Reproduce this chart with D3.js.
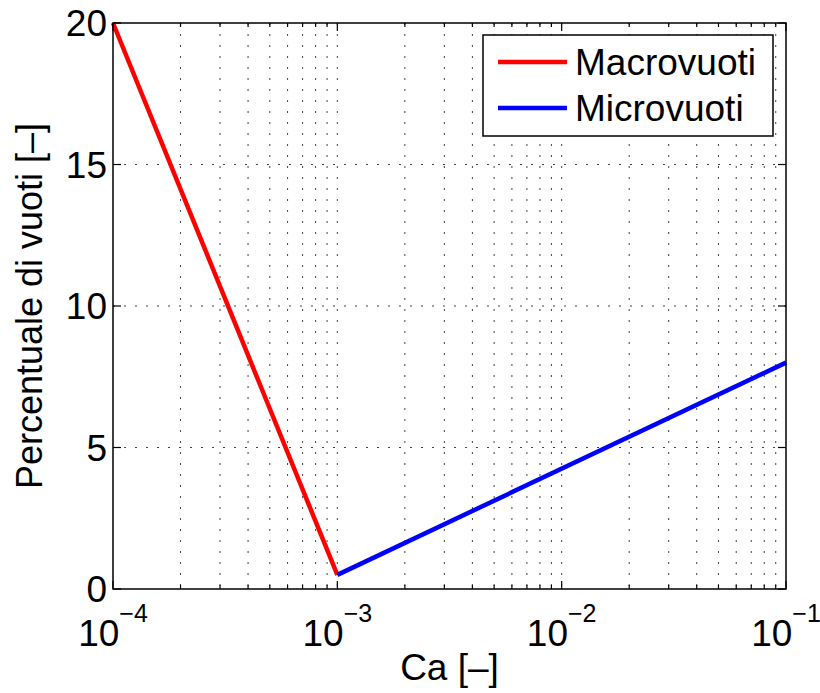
<!DOCTYPE html>
<html>
<head>
<meta charset="utf-8">
<script src="https://d3js.org/d3.v7.min.js"></script>
<style>
  body { margin: 0; background: #fff; }
  svg text { font-family: "Liberation Sans", Arial, sans-serif; fill: #000; }
</style>
</head>
<body>
<div id="chart"></div>
<script>
// data
var macroCa = [1e-4, 1e-3];
var macroVoids = [20, 0.5];
var microCa = [1e-3, 1e-1];
var microVoids = [0.5, 8];
var xTickExp = [-4, -3, -2, -1];
var yTicks = [0, 5, 10, 15, 20];
var seriesNames = ["Macrovuoti", "Microvuoti"];
var seriesColors = ["#ff0000", "#0000ff"];

var W = 820, H = 693;
var margin = {top: 23, right: 34, bottom: 104, left: 113};
var width = W - margin.left - margin.right,
    height = H - margin.top - margin.bottom;

var svg = d3.select("#chart").append("svg")
    .attr("width", W).attr("height", H);
var g = svg.append("g")
    .attr("transform", "translate(" + margin.left + "," + margin.top + ")");

var x = d3.scaleLog().domain([1e-4, 1e-1]).range([0, width]);
var y = d3.scaleLinear().domain([0, 20]).range([height, 0]);

// minor positions 2..9 in every decade
var minor = [];
xTickExp.slice(0, -1).forEach(function(e) {
  for (var k = 2; k <= 9; k++) minor.push(k * Math.pow(10, e));
});
var major = xTickExp.map(function(e) { return Math.pow(10, e); });

// dotted grid
var grid = g.append("g").attr("stroke", "#444").attr("stroke-width", 1)
    .attr("stroke-dasharray", "2,9");
grid.selectAll(".vx").data(minor.concat(major.slice(1, -1))).enter().append("line")
    .attr("x1", d => x(d)).attr("x2", d => x(d))
    .attr("y1", 0).attr("y2", height);
grid.selectAll(".hy").data(yTicks.slice(1, -1)).enter().append("line")
    .attr("x1", 0).attr("x2", width)
    .attr("y1", d => y(d)).attr("y2", d => y(d));

// lines
var line = d3.line().x(d => x(d[0])).y(d => y(d[1]));
var series = [d3.zip(macroCa, macroVoids), d3.zip(microCa, microVoids)];
series.forEach(function(s, i) {
  g.append("path").datum(s)
    .attr("fill", "none")
    .attr("stroke", seriesColors[i])
    .attr("stroke-width", 4.5)
    .attr("d", line);
});

// ticks inside on all four sides
var ticks = g.append("g").attr("stroke", "#000").attr("stroke-width", 1.2);
major.forEach(function(d) {
  ticks.append("line").attr("x1", x(d)).attr("x2", x(d)).attr("y1", height).attr("y2", height - 8);
  ticks.append("line").attr("x1", x(d)).attr("x2", x(d)).attr("y1", 0).attr("y2", 8);
});
minor.forEach(function(d) {
  ticks.append("line").attr("x1", x(d)).attr("x2", x(d)).attr("y1", height).attr("y2", height - 4);
  ticks.append("line").attr("x1", x(d)).attr("x2", x(d)).attr("y1", 0).attr("y2", 4);
});
yTicks.forEach(function(d) {
  ticks.append("line").attr("x1", 0).attr("x2", 8).attr("y1", y(d)).attr("y2", y(d));
  ticks.append("line").attr("x1", width).attr("x2", width - 8).attr("y1", y(d)).attr("y2", y(d));
});

// box
g.append("rect").attr("width", width).attr("height", height)
  .attr("fill", "none").attr("stroke", "#000").attr("stroke-width", 1.5);

// x tick labels 10^e
xTickExp.forEach(function(e) {
  var t = g.append("text")
    .attr("x", x(Math.pow(10, e)))
    .attr("y", height + 57)
    .attr("text-anchor", "middle")
    .style("font-size", "37px");
  t.append("tspan").text("10");
  t.append("tspan").attr("dy", -24).style("font-size", "25px").text("\u2212" + Math.abs(e));
});

// y tick labels
yTicks.forEach(function(d) {
  g.append("text")
    .attr("x", -6).attr("y", y(d))
    .attr("dy", "0.36em")
    .attr("text-anchor", "end")
    .style("font-size", "37px")
    .text(d);
});

// axis titles
g.append("text")
  .attr("x", width / 2).attr("y", height + 91)
  .attr("text-anchor", "middle")
  .style("font-size", "37px")
  .text("Ca [\u2013]");
svg.append("text")
  .attr("transform", "translate(42," + (margin.top + height / 2) + ") rotate(-90)")
  .attr("text-anchor", "middle")
  .style("font-size", "36px")
  .text("Percentuale di vuoti [\u2013]");

// legend
var leg = g.append("g").attr("transform", "translate(" + (483 - margin.left) + "," + (35 - margin.top) + ")");
leg.append("rect").attr("width", 290).attr("height", 101)
  .attr("fill", "#fff").attr("stroke", "#000").attr("stroke-width", 1.5);
seriesNames.forEach(function(name, i) {
  var yy = 27 + i * 46;
  leg.append("line").attr("x1", 15).attr("x2", 84).attr("y1", yy).attr("y2", yy)
    .attr("stroke", seriesColors[i]).attr("stroke-width", 4.5);
  leg.append("text").attr("x", 92).attr("y", yy + 13)
    .style("font-size", "37px").text(name);
});
</script>
</body>
</html>
